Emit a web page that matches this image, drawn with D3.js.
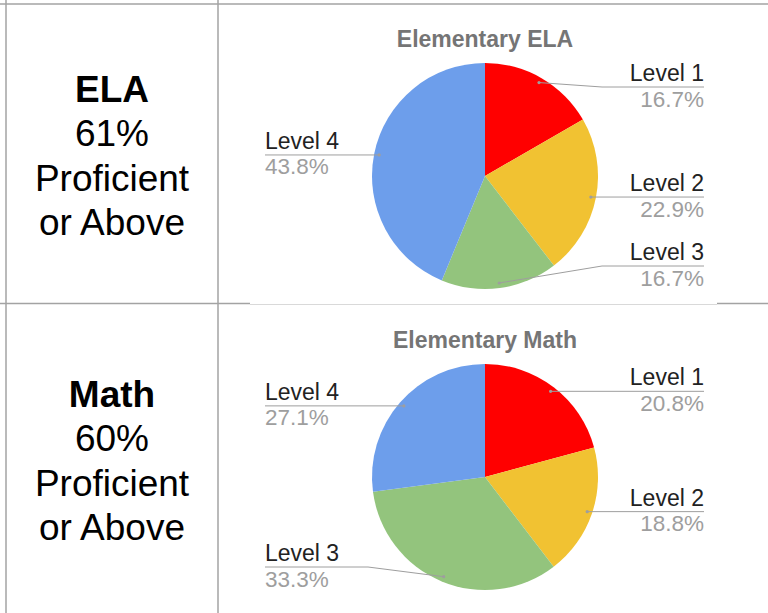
<!DOCTYPE html>
<html>
<head>
<meta charset="utf-8">
<script src="https://cdn.jsdelivr.net/npm/d3@7"></script>
<style>
  body { margin: 0; background: #fff; }
  svg { display: block; font-family: "Liberation Sans", Arial, sans-serif; }
</style>
</head>
<body>
<div id="chart"></div>
<script>
// data
var levels = ["Level 1", "Level 2", "Level 3", "Level 4"];
var elaValues = [16.7, 22.9, 16.7, 43.8];
var mathValues = [20.8, 18.8, 33.3, 27.1];
var subjects = ["ELA", "Math"];
var proficientPct = [61, 60];
var chartTitles = ["Elementary ELA", "Elementary Math"];
var sliceColors = ["#ff0000", "#f1c232", "#93c47d", "#6d9eeb"];

render();

function render() {
  var width = 768, height = 613;
  var lineColor = "#a3a3a3";
  var colX = 218;           // column divider
  var rowTops = [4, 303.5];
  var rowBottoms = [303.5, 614];

  var svg = d3.select("#chart")
    .append("svg")
    .attr("width", width)
    .attr("height", height);

  // table grid
  svg.append("line")
    .attr("x1", 0).attr("x2", width)
    .attr("y1", 4).attr("y2", 4)
    .attr("stroke", lineColor).attr("stroke-width", 1.5);
  svg.append("line")
    .attr("x1", 0).attr("x2", width)
    .attr("y1", 303.5).attr("y2", 303.5)
    .attr("stroke", lineColor).attr("stroke-width", 1.5);
  [6, colX].forEach(function (x) {
    svg.append("line")
      .attr("x1", x).attr("x2", x)
      .attr("y1", 0).attr("y2", height)
      .attr("stroke", lineColor).attr("stroke-width", 1.5);
  });

  // chart pictures sit over the row line
  svg.append("rect")
    .attr("x", 250).attr("y", 302).attr("width", 467).attr("height", 4)
    .attr("fill", "#fff");
  svg.append("line")
    .attr("x1", 250).attr("x2", 717)
    .attr("y1", 304.5).attr("y2", 304.5)
    .attr("stroke", "#d9d9d9").attr("stroke-width", 1);

  // left column text
  subjects.forEach(function (s, i) {
    var mid = (rowTops[i] + rowBottoms[i]) / 2;
    var lines = [s, proficientPct[i] + "%", "Proficient", "or Above"];
    var t = svg.append("text")
      .attr("x", (6 + colX) / 2)
      .attr("text-anchor", "middle")
      .style("font-size", "37px")
      .attr("fill", "#000");
    lines.forEach(function (l, j) {
      t.append("tspan")
        .attr("x", (6 + colX) / 2)
        .attr("y", mid - 52 + j * 44.5)
        .style("font-weight", j == 0 ? "bold" : "normal")
        .text(l);
    });
  });

  // pie charts
  var datasets = [elaValues, mathValues];
  var r = 113;
  var centers = [{ x: 485, y: 176 }, { x: 485, y: 477 }];

  var pie = d3.pie().sort(null).value(function (d) { return d; });
  var arc = d3.arc().innerRadius(0).outerRadius(r);
  var dotArc = d3.arc().innerRadius(r * 0.955).outerRadius(r * 0.955);

  datasets.forEach(function (values, k) {
    var c = centers[k];
    var g = svg.append("g")
      .attr("transform", "translate(" + c.x + "," + c.y + ")");

    g.append("text")
      .attr("x", 0)
      .attr("y", -r - 16)
      .attr("text-anchor", "middle")
      .attr("fill", "#757575")
      .style("font-size", "23px")
      .style("font-weight", "bold")
      .text(chartTitles[k]);

    var arcs = pie(values);

    g.selectAll("path.slice")
      .data(arcs)
      .enter()
      .append("path")
      .attr("class", "slice")
      .attr("fill", function (d, i) { return sliceColors[i]; })
      .attr("d", arc);

    arcs.forEach(function (d, i) {
      var p = dotArc.centroid(d);
      var mid = (d.startAngle + d.endAngle) / 2;
      var right = mid < Math.PI;
      var ly = Math.max(-r + 24, Math.min(r - 23, p[1]));
      var endX = right ? 219 : -220;
      var bendX = right ? r + 4 : -(r + 4);
      var pts = [p];
      if (Math.abs(ly - p[1]) > 0.5) pts.push([bendX, ly]);
      pts.push([endX, ly]);

      g.append("path")
        .attr("d", d3.line()(pts))
        .attr("fill", "none")
        .attr("stroke", "#9e9e9e")
        .attr("stroke-width", 1);
      g.append("circle")
        .attr("cx", p[0]).attr("cy", p[1])
        .attr("r", 1.6)
        .attr("fill", "#9e9e9e");

      g.append("text")
        .attr("x", endX)
        .attr("y", ly - 6)
        .attr("text-anchor", right ? "end" : "start")
        .attr("fill", "#222")
        .style("font-size", "23px")
        .text(levels[i]);
      g.append("text")
        .attr("x", endX)
        .attr("y", ly + 19.5)
        .attr("text-anchor", right ? "end" : "start")
        .attr("fill", "#9e9e9e")
        .style("font-size", "22.5px")
        .text(values[i].toFixed(1) + "%");
    });
  });
}
</script>
</body>
</html>
